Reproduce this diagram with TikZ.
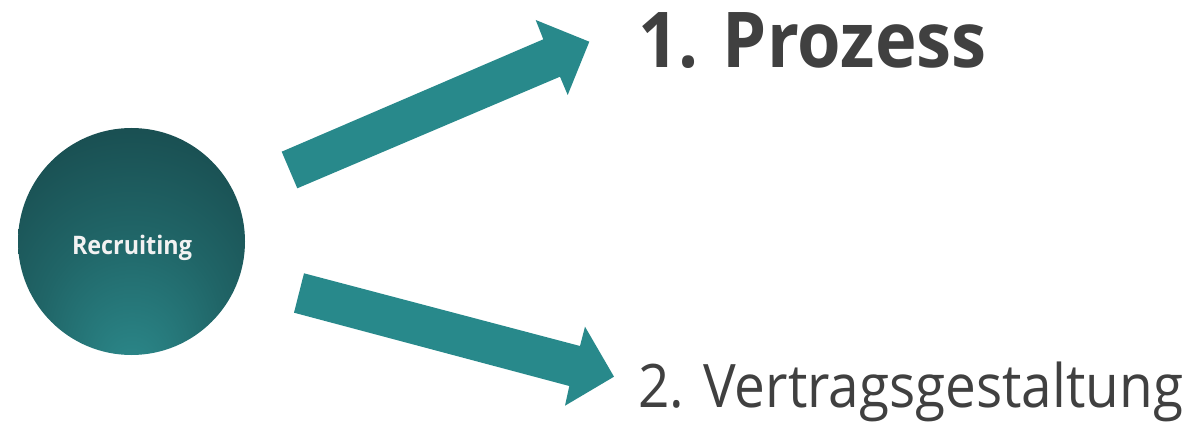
\documentclass[tikz,border=0pt]{standalone}
\usepackage{fontspec}
\setmainfont{Open Sans}[FakeStretch=0.915]
\usetikzlibrary{calc}

\definecolor{arrowteal}{HTML}{28898B}
\definecolor{labelgray}{HTML}{404040}
\definecolor{orbLight}{HTML}{2C8A8C}
\definecolor{orbMid}{HTML}{206567}
\definecolor{orbDark}{HTML}{184A4D}
\definecolor{orbText}{HTML}{F2F2F2}

% soft glow from the lower part of the sphere
\pgfdeclareradialshading{orb}{\pgfpoint{0bp}{-30bp}}{%
  color(0bp)=(orbLight); color(20bp)=(orbMid); color(38bp)=(orbDark); color(50bp)=(orbDark)}

\tikzset{
  orbnode/.style={circle, minimum size=227pt, inner sep=0pt, shading=orb},
  bigarrow/.style={fill=arrowteal, draw=none},
  titlelabel/.style={anchor=base west, inner sep=0pt, text=labelgray},
}

\begin{document}
\begin{tikzpicture}[x=1pt, y=-1pt]
  \useasboundingbox (0,0) rectangle (1195,422);

  % central sphere
  \node[orbnode] (rec) at (131.5,241.5) {};
  \node[anchor=base, inner sep=0pt, text=orbText,
        font=\bfseries\fontsize{25.5}{30}\selectfont] (rectext) at (132,255) {Recruiting};

  % targets
  \node[titlelabel, font=\bfseries\fontsize{77}{90}\selectfont] (p1) at (638,68) {1. Prozess};
  \node[titlelabel, font=\fontsize{60}{70}\selectfont] (p2) at (638,407) {2. Vertragsgestaltung};

  % upper block arrow
  \coordinate (a1tailT) at (281.7,151.7);
  \coordinate (a1tailB) at (297.3,188.3);
  \coordinate (a1tip) at (589.3,41.7);
  \fill[bigarrow] (a1tailT) -- (543.3,39.3) -- (535.7,20) -- (a1tip)
    -- (567.7,95) -- (560,76.7) -- (a1tailB) -- cycle;

  % lower block arrow
  \coordinate (a2tailT) at (304,273.3);
  \coordinate (a2tailB) at (294,312.7);
  \coordinate (a2tip) at (614,376.7);
  \fill[bigarrow] (a2tailT) -- (580,346) -- (585,326.7) -- (a2tip)
    -- (565,405.7) -- (569.3,386) -- (a2tailB) -- cycle;
\end{tikzpicture}
\end{document}
